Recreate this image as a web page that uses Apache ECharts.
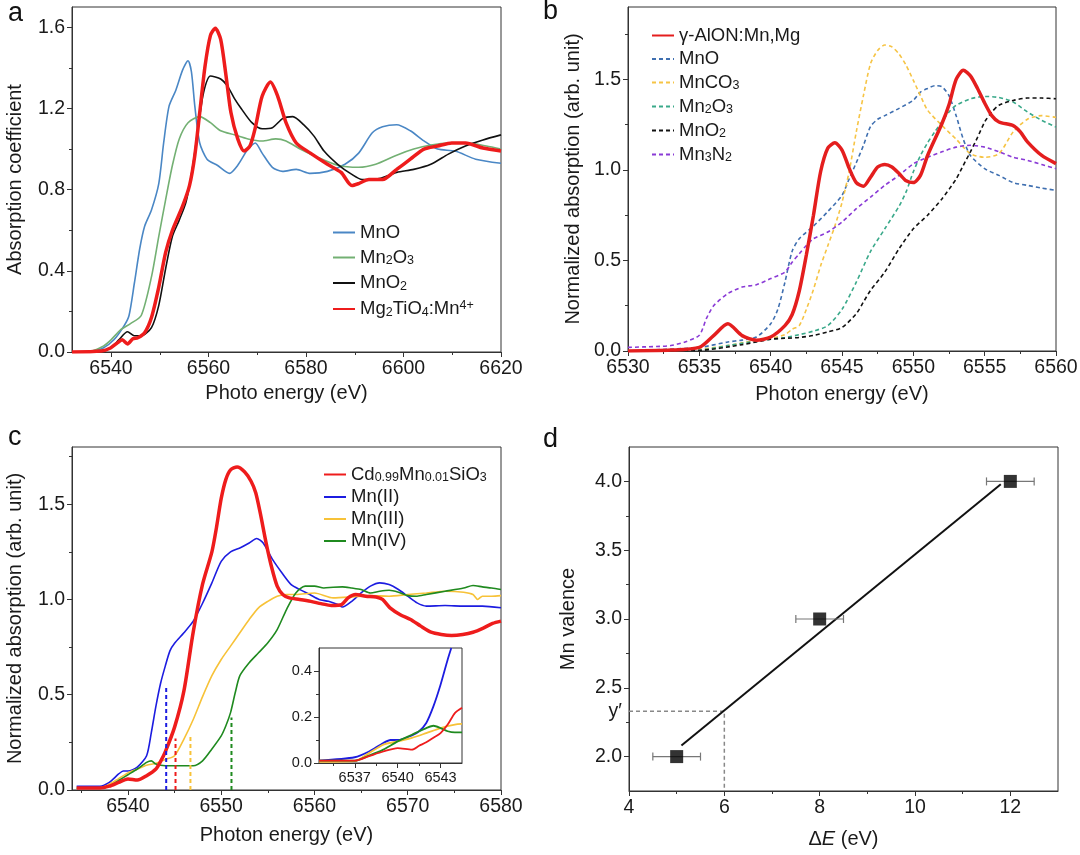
<!DOCTYPE html>
<html><head><meta charset="utf-8">
<script src="https://cdn.jsdelivr.net/npm/echarts@6/dist/echarts.min.js"></script>
<style>html,body{margin:0;padding:0;background:#fff}#c{width:1080px;height:855px}</style>
</head><body><div id="c"></div>
<script>
// ---------- Panel a data ----------
const aMnO = [[6532,0],[6536,0.005],[6538.4,0.02],[6540.6,0.06],[6542.7,0.13],[6543.7,0.18],[6544.8,0.34],[6545.9,0.51],[6546.9,0.62],[6548.3,0.70],[6549.8,0.83],[6550.8,1.03],[6551.9,1.21],[6553.3,1.29],[6554.7,1.39],[6555.8,1.435],[6556.5,1.38],[6557.2,1.21],[6558.2,1.03],[6559.7,0.95],[6561.8,0.92],[6564.3,0.88],[6566,0.92],[6568.1,1.0],[6569.6,1.03],[6571,0.98],[6573.1,0.91],[6575.2,0.89],[6578,0.90],[6580.9,0.88],[6584.4,0.89],[6588,0.925],[6590.8,0.98],[6593.6,1.08],[6595.7,1.11],[6598.6,1.12],[6601.4,1.09],[6604.2,1.04],[6607,1.0],[6610.6,0.99],[6614.8,0.95],[6620,0.93]];
const aMn2O3 = [[6532,0],[6536,0.005],[6538.5,0.03],[6540,0.06],[6542,0.11],[6544,0.14],[6546.2,0.18],[6548.3,0.37],[6549.8,0.57],[6551.2,0.75],[6552.6,0.92],[6554,1.05],[6555.8,1.13],[6558.2,1.16],[6560.4,1.13],[6562.5,1.09],[6565.3,1.07],[6568.1,1.05],[6571,1.04],[6573.8,1.05],[6575.9,1.04],[6578.8,1.0],[6582.3,0.96],[6586.5,0.92],[6590.8,0.91],[6594.3,0.925],[6598.6,0.97],[6602.1,1.0],[6605.6,1.02],[6609.2,1.03],[6613.4,1.03],[6617,1.015],[6620,1.0]];
const aMnO2 = [[6532,0],[6538,0.005],[6540,0.02],[6541.6,0.06],[6543.4,0.10],[6544.8,0.08],[6546.2,0.08],[6548.3,0.12],[6549.8,0.23],[6551.2,0.41],[6552.6,0.57],[6554,0.65],[6555.4,0.74],[6556.8,0.92],[6557.9,1.11],[6559,1.28],[6560.4,1.36],[6562.5,1.345],[6563.9,1.31],[6565.3,1.25],[6566.7,1.20],[6568.9,1.13],[6571,1.10],[6573.1,1.105],[6575.2,1.15],[6577.3,1.16],[6579.5,1.12],[6581.6,1.065],[6583.7,0.99],[6586.5,0.925],[6589.4,0.875],[6591.5,0.85],[6595,0.855],[6598.6,0.885],[6602.1,0.90],[6605.6,0.925],[6609.2,0.975],[6612.7,1.015],[6616.3,1.045],[6620,1.07]];
const aMgTiO = [[6532,0],[6538,0.005],[6539.9,0.02],[6541.3,0.045],[6542.3,0.06],[6543.4,0.04],[6544.5,0.065],[6545.5,0.07],[6546.9,0.095],[6548.3,0.17],[6549.8,0.32],[6551.2,0.49],[6552.6,0.60],[6554.7,0.72],[6556.1,0.82],[6557.2,0.97],[6558.2,1.18],[6559.3,1.41],[6560.4,1.56],[6561.4,1.595],[6562.5,1.54],[6563.6,1.36],[6564.6,1.18],[6566,1.05],[6567.3,0.99],[6568.5,1.015],[6569.6,1.105],[6571,1.26],[6572.7,1.33],[6574.2,1.26],[6575.9,1.13],[6578,1.03],[6580.9,0.98],[6584.4,0.925],[6587.2,0.885],[6589.4,0.82],[6590.8,0.83],[6592.9,0.85],[6595.7,0.85],[6598.6,0.90],[6601.4,0.95],[6604.2,1.0],[6607,1.015],[6609.9,1.03],[6612.7,1.03],[6616.3,1.005],[6620,0.99]];

// ---------- Panel b data ----------
const bAlON = [[6530,0],[6533,0.005],[6535,0.02],[6536,0.085],[6537,0.15],[6538,0.085],[6539,0.06],[6540,0.077],[6541,0.14],[6541.5,0.2],[6542,0.33],[6542.5,0.53],[6543,0.75],[6543.5,0.99],[6544,1.12],[6544.5,1.15],[6545,1.11],[6545.5,1.01],[6546,0.93],[6546.5,0.91],[6547,0.96],[6547.5,1.016],[6548,1.03],[6548.5,1.016],[6549,0.98],[6549.5,0.94],[6550,0.93],[6550.5,0.97],[6551,1.08],[6552,1.255],[6552.5,1.36],[6553,1.50],[6553.5,1.55],[6554,1.52],[6554.5,1.45],[6555,1.37],[6555.5,1.30],[6556,1.265],[6557,1.245],[6557.5,1.21],[6558,1.155],[6559,1.08],[6560,1.035]];
const bMnO = [[6530,0],[6535,0.02],[6537,0.05],[6538,0.06],[6539,0.077],[6540,0.15],[6540.5,0.23],[6541,0.38],[6541.5,0.55],[6542,0.62],[6543,0.69],[6544,0.77],[6545,0.86],[6545.5,0.95],[6546,1.04],[6546.5,1.135],[6547,1.24],[6547.5,1.28],[6548,1.30],[6549,1.34],[6550,1.385],[6550.5,1.43],[6551,1.45],[6551.5,1.465],[6552,1.46],[6552.5,1.41],[6553,1.30],[6553.5,1.17],[6554,1.08],[6555,1.007],[6556,0.97],[6557,0.93],[6558,0.915],[6559,0.90],[6560,0.887]];
const bMnCO3 = [[6530,0],[6535,0.01],[6537,0.03],[6538,0.045],[6539,0.06],[6540,0.07],[6541,0.09],[6541.5,0.12],[6542,0.14],[6542.5,0.23],[6543,0.34],[6543.5,0.47],[6544,0.58],[6544.5,0.69],[6545,0.82],[6545.5,0.99],[6546,1.21],[6546.5,1.41],[6547,1.587],[6547.5,1.66],[6548,1.69],[6548.5,1.68],[6549,1.64],[6549.5,1.577],[6550,1.495],[6550.5,1.41],[6551,1.33],[6552,1.246],[6553,1.17],[6554,1.09],[6555,1.07],[6556,1.09],[6557,1.21],[6558,1.28],[6559,1.30],[6560,1.29]];
const bMn2O3 = [[6530,0],[6535,0.005],[6537,0.03],[6539,0.055],[6541,0.075],[6542,0.09],[6543,0.11],[6544,0.14],[6545,0.23],[6546,0.38],[6547,0.55],[6548,0.675],[6549,0.80],[6549.5,0.88],[6550,0.99],[6550.5,1.08],[6551,1.15],[6551.5,1.21],[6552,1.265],[6552.5,1.32],[6553,1.357],[6554,1.393],[6555,1.406],[6556,1.40],[6557,1.375],[6558,1.32],[6559,1.274],[6560,1.237]];
const bMnO2 = [[6530,0],[6535,0.003],[6538,0.035],[6540,0.065],[6541,0.07],[6542,0.075],[6543,0.086],[6544,0.105],[6545,0.13],[6546,0.206],[6546.5,0.27],[6547,0.335],[6548,0.436],[6549,0.565],[6550,0.675],[6551,0.75],[6552,0.84],[6553,0.95],[6553.5,1.025],[6554,1.10],[6554.5,1.18],[6555,1.265],[6555.5,1.32],[6556,1.357],[6557,1.384],[6558,1.397],[6559,1.397],[6560,1.393]];
const bMn3N2 = [[6530,0.02],[6532,0.025],[6533,0.03],[6534,0.05],[6535,0.087],[6535.5,0.18],[6536,0.25],[6537,0.317],[6538,0.353],[6539,0.366],[6540,0.40],[6541,0.436],[6541.5,0.49],[6542,0.537],[6542.5,0.583],[6543,0.62],[6544,0.657],[6545,0.712],[6546,0.786],[6547,0.85],[6548,0.915],[6549,0.97],[6550,1.034],[6551,1.07],[6552,1.10],[6553,1.126],[6554,1.136],[6555,1.126],[6556,1.10],[6557,1.07],[6558,1.053],[6559,1.03],[6560,1.007]];

// ---------- Panel c data ----------
const cCdMn = [[6534.5,0.01],[6537,0.01],[6538,0.02],[6539,0.04],[6540,0.058],[6541,0.052],[6542,0.075],[6543,0.11],[6543.5,0.15],[6544,0.20],[6545,0.33],[6546,0.52],[6547,0.83],[6548,1.08],[6549,1.25],[6549.5,1.38],[6550,1.53],[6550.5,1.63],[6551,1.68],[6551.7,1.695],[6552.5,1.67],[6553.2,1.62],[6553.7,1.56],[6554.2,1.45],[6554.8,1.30],[6555.4,1.17],[6556,1.07],[6556.6,1.026],[6557.3,1.008],[6558.4,1.0],[6559.6,0.99],[6560.7,0.978],[6561.8,0.968],[6562.9,0.973],[6563.6,1.008],[6564.4,1.026],[6565.5,1.017],[6566.6,1.013],[6567.3,1.0],[6568.1,0.956],[6569.2,0.92],[6570.3,0.895],[6571.4,0.86],[6572.5,0.828],[6573.6,0.816],[6574.7,0.811],[6575.9,0.816],[6577,0.828],[6578.1,0.85],[6579.1,0.874],[6580,0.886]];
const cMnII = [[6534.5,0.02],[6537,0.02],[6538,0.04],[6539,0.084],[6539.5,0.1],[6540,0.1],[6541,0.12],[6542,0.18],[6542.5,0.30],[6543,0.44],[6543.5,0.56],[6544,0.65],[6544.5,0.73],[6545,0.77],[6546,0.825],[6547,0.886],[6548,0.98],[6549,1.087],[6550,1.20],[6551,1.25],[6552,1.27],[6553,1.296],[6553.8,1.32],[6554.5,1.296],[6555.5,1.21],[6556.5,1.14],[6557.5,1.078],[6558.5,1.05],[6559.5,1.026],[6560.5,1.0],[6561.5,0.99],[6562.5,0.973],[6563,0.96],[6564,0.99],[6565,1.034],[6566,1.07],[6567,1.087],[6568,1.078],[6569,1.052],[6570,1.017],[6571,0.982],[6572,0.965],[6574,0.968],[6576,0.965],[6578,0.965],[6580,0.956]];
const cMnIII = [[6534.5,0.01],[6537,0.01],[6538,0.03],[6539,0.06],[6540,0.09],[6541,0.11],[6542,0.13],[6543,0.14],[6544,0.16],[6545,0.18],[6546,0.267],[6547,0.37],[6548,0.49],[6549,0.60],[6550,0.685],[6551,0.755],[6552,0.825],[6553,0.895],[6554,0.956],[6555,0.99],[6556,1.017],[6557,1.026],[6558,1.026],[6560,1.034],[6562,1.008],[6564,1.013],[6566,1.02],[6568,1.017],[6570,1.026],[6572,1.034],[6574,1.043],[6576,1.038],[6577,1.026],[6577.5,1.0],[6578,1.017],[6579,1.017],[6580,1.02]];
const cMnIV = [[6534.5,0.01],[6537,0.01],[6538,0.02],[6539,0.05],[6540,0.08],[6541,0.11],[6542,0.145],[6542.5,0.153],[6543,0.136],[6544,0.127],[6545,0.127],[6546,0.127],[6547,0.127],[6548,0.153],[6549,0.215],[6550,0.284],[6550.5,0.337],[6551,0.406],[6551.5,0.51],[6552,0.60],[6553,0.668],[6554,0.72],[6555,0.773],[6556,0.842],[6557,0.947],[6558,1.034],[6559,1.07],[6560,1.07],[6561,1.06],[6562,1.064],[6563,1.066],[6564,1.06],[6565,1.052],[6566,1.034],[6567,1.043],[6568,1.048],[6569,1.038],[6570,1.02],[6571,1.017],[6572,1.026],[6574,1.043],[6576,1.06],[6577,1.073],[6578,1.066],[6579,1.06],[6580,1.052]];
// drop lines (energy, top value)
const cDropX = [6544.1, 6545.1, 6546.7, 6551.1];
const cDropTop = [0.54, 0.27, 0.29, 0.38];
// inset
const iMnII = [[6534.5,0.01],[6537,0.025],[6538,0.05],[6539,0.087],[6539.5,0.10],[6540,0.10],[6541,0.12],[6541.5,0.138],[6542,0.174],[6542.5,0.246],[6543,0.34],[6543.5,0.45],[6543.75,0.5]];
const iCdMn = [[6534.5,0.01],[6537,0.01],[6538,0.03],[6539,0.05],[6540,0.065],[6541,0.058],[6541.5,0.075],[6542,0.09],[6542.5,0.11],[6543,0.13],[6543.5,0.167],[6544,0.217],[6544.5,0.24]];
const iMnIII = [[6534.5,0.005],[6537,0.008],[6538,0.043],[6539,0.08],[6540,0.094],[6541,0.109],[6542,0.13],[6543,0.152],[6544,0.167],[6544.5,0.17]];
const iMnIV = [[6534.5,0.01],[6537,0.01],[6538,0.032],[6539,0.058],[6540,0.094],[6541,0.123],[6541.5,0.138],[6542,0.152],[6542.5,0.162],[6543,0.152],[6543.5,0.138],[6544,0.133],[6544.5,0.133]];

// ---------- Panel d data ----------
const dX = [5, 8, 12];
const dY = [2, 3, 4];
const dErr = [0.5, 0.5, 0.5];
const dFit = [[5.1, 2.08], [11.8, 3.98]];
const dYPrime = 2.33;
const dXPrime = 6;

// ---------- tick values ----------
const aXMaj = [6540,6560,6580,6600,6620], aXMin = [6550,6570,6590,6610];
const aYMaj = [0,0.4,0.8,1.2,1.6], aYMin = [0.2,0.6,1.0,1.4];
const bXMaj = [6530,6535,6540,6545,6550,6555,6560], bXMin = [6532.5,6537.5,6542.5,6547.5,6552.5,6557.5];
const bYMaj = [0,0.5,1.0,1.5], bYMin = [0.25,0.75,1.25,1.75];
const cXMaj = [6540,6550,6560,6570,6580], cXMin = [6535,6545,6555,6565,6575];
const cYMaj = [0,0.5,1.0,1.5], cYMin = [0.25,0.75,1.25,1.75];
const iXMaj = [6537,6540,6543], iXMin = [6535.5,6538.5,6541.5];
const iYMaj = [0,0.2,0.4], iYMin = [0.1,0.3];
const dXMaj = [4,6,8,10,12], dXMin = [5,7,9,11];
const dYMaj = [2.0,2.5,3.0,3.5,4.0], dYMin = [2.25,2.75,3.25,3.75];

const FONT = '"Liberation Sans", Arial, Helvetica, sans-serif';
const AX = '#333', TXT = '#1a1a1a';
const TICKFS = 19.5, NAMEFS = 20;

function axisPair(dim, gridIndex, min, max, majors, minors, labelVals, fmt, fs, extra) {
  const pos = dim === 'x' ? 'bottom' : 'left';
  const main = Object.assign({
    type: 'value', gridIndex, min, max, position: pos,
    axisLine: {show: true, onZero: false, lineStyle: {color: AX, width: 1}},
    axisTick: {show: true, inside: false, length: 5, customValues: majors, lineStyle: {color: AX, width: 1}},
    axisLabel: {show: true, customValues: labelVals, formatter: fmt, color: TXT, fontFamily: FONT, fontSize: fs, margin: 7, hideOverlap: false},
    splitLine: {show: false}
  }, extra || {});
  const minor = {
    type: 'value', gridIndex, min, max, position: pos,
    axisLine: {show: false, onZero: false},
    axisTick: {show: true, inside: false, length: 3, customValues: minors, lineStyle: {color: AX, width: 1}},
    axisLabel: {show: false}, splitLine: {show: false}
  };
  return [main, minor];
}
const f1 = v => v.toFixed(1);
const f0 = v => String(Math.round(v));
const nameStyle = {color: TXT, fontFamily: FONT, fontSize: NAMEFS};

const xAxis = [
  ...axisPair('x', 0, 6532, 6620, aXMaj, aXMin, aXMaj, f0, TICKFS, {name: 'Photo energy (eV)', nameLocation: 'middle', nameGap: 31, nameTextStyle: nameStyle}),
  ...axisPair('x', 1, 6530, 6560, bXMaj, bXMin, bXMaj, f0, TICKFS, {name: 'Photon energy (eV)', nameLocation: 'middle', nameGap: 33, nameTextStyle: nameStyle}),
  ...axisPair('x', 2, 6534, 6580, cXMaj, cXMin, cXMaj, f0, TICKFS, {name: 'Photon energy (eV)', nameLocation: 'middle', nameGap: 35, nameTextStyle: nameStyle}),
  ...axisPair('x', 3, 6534.5, 6544.5, iXMaj, iXMin, iXMaj, f0, 14.5, {}),
  ...axisPair('x', 4, 4, 13, dXMaj, dXMin, dXMaj, f0, TICKFS, {name: 'Δ{i|E} (eV)', nameLocation: 'middle', nameGap: 38,
     nameTextStyle: Object.assign({}, nameStyle, {rich: {i: {fontStyle: 'italic', fontFamily: FONT, fontSize: NAMEFS, color: TXT}}})})
];
const yAxis = [
  ...axisPair('y', 0, 0, 1.7, aYMaj, aYMin, aYMaj, f1, TICKFS, {name: 'Absorption coefficient', nameLocation: 'middle', nameGap: 47, nameTextStyle: nameStyle}),
  ...axisPair('y', 1, 0, 1.9, bYMaj, bYMin, bYMaj, f1, TICKFS, {name: 'Normalized absorption (arb. unit)', nameLocation: 'middle', nameGap: 45, nameTextStyle: nameStyle}),
  ...axisPair('y', 2, 0, 1.8, cYMaj, cYMin, cYMaj, f1, TICKFS, {name: 'Normalized absorption (arb. unit)', nameLocation: 'middle', nameGap: 47, nameTextStyle: nameStyle}),
  ...axisPair('y', 3, 0, 0.5, iYMaj, iYMin, iYMaj, f1, 14.5, {}),
  ...axisPair('y', 4, 1.75, 4.25, dYMaj, dYMin, dYMaj.concat([dYPrime]),
     v => Math.abs(v - dYPrime) < 1e-6 ? 'y\u2032' : v.toFixed(1), TICKFS,
     {name: 'Mn valence', nameLocation: 'middle', nameGap: 51, nameTextStyle: nameStyle})
];

const gridBase = {show: true, borderColor: AX, borderWidth: 1, backgroundColor: 'transparent', containLabel: false, outerBoundsMode: 'none'};
const grid = [
  Object.assign({left: 72, top: 7, width: 429, height: 345}, gridBase),
  Object.assign({left: 628, top: 7, width: 428, height: 344}, gridBase),
  Object.assign({left: 72, top: 447, width: 429, height: 343}, gridBase),
  Object.assign({left: 319, top: 648, width: 143, height: 115}, gridBase, {backgroundColor: '#fff'}),
  Object.assign({left: 629, top: 447, width: 429, height: 344}, gridBase)
];

function ln(name, data, gi, color, width, dashed, z) {
  return {type: 'line', name, data, xAxisIndex: gi * 2, yAxisIndex: gi * 2, symbol: 'none', showSymbol: false,
    smooth: 0.25, silent: true, z: z || 2,
    lineStyle: {color, width, type: dashed ? [4, 3] : 'solid'}, itemStyle: {color}};
}

const cRed = '#ee1c1c', cBlue = '#1c1ce0', cYel = '#f7c238', cGrn = '#1f8a1f';
const dropColors = [cBlue, cRed, cYel, cGrn];

const series = [
  // a
  ln('a:MnO', aMnO, 0, '#4a87c5', 1.6),
  ln('a:Mn2O3', aMn2O3, 0, '#73b073', 1.6),
  ln('a:MnO2', aMnO2, 0, '#111111', 1.6),
  ln('a:Mg', aMgTiO, 0, '#ee1c1c', 3.5, false, 3),
  // b
  ln('b:MnO', bMnO, 1, '#3f6fb0', 1.6, true),
  ln('b:MnCO3', bMnCO3, 1, '#f6c445', 1.6, true),
  ln('b:Mn2O3', bMn2O3, 1, '#3aa98a', 1.6, true),
  ln('b:MnO2', bMnO2, 1, '#111111', 1.6, true),
  ln('b:Mn3N2', bMn3N2, 1, '#8a3bd6', 1.6, true),
  ln('b:AlON', bAlON, 1, '#e41e1e', 3.5, false, 3),
  // c
  ln('c:MnII', cMnII, 2, cBlue, 1.6),
  ln('c:MnIII', cMnIII, 2, cYel, 1.6),
  ln('c:MnIV', cMnIV, 2, cGrn, 1.6),
  ln('c:Cd', cCdMn, 2, cRed, 3.5, false, 3),
  ...cDropX.map((x, i) => ({type: 'line', data: [[x, 0], [x, cDropTop[i]]], xAxisIndex: 4, yAxisIndex: 4, symbol: 'none',
    silent: true, z: 4, lineStyle: {color: dropColors[i], width: 2, type: [4, 3]}})),
  // inset
  ln('i:MnII', iMnII, 3, cBlue, 1.8),
  ln('i:MnIII', iMnIII, 3, cYel, 1.8),
  ln('i:MnIV', iMnIV, 3, cGrn, 1.8),
  ln('i:Cd', iCdMn, 3, cRed, 1.8),
  // d
  {type: 'line', data: [[4, dYPrime], [dXPrime, dYPrime], [dXPrime, 1.75]], xAxisIndex: 8, yAxisIndex: 8, symbol: 'none',
    silent: true, lineStyle: {color: '#888', width: 1.5, type: [4, 3]}},
  {type: 'line', data: dFit, xAxisIndex: 8, yAxisIndex: 8, symbol: 'none', silent: true, z: 3,
    lineStyle: {color: '#111', width: 2}},
  {type: 'custom', xAxisIndex: 8, yAxisIndex: 8, silent: true, z: 4,
    data: dX.map((x, i) => [x - dErr[i], dY[i], x + dErr[i]]), encode: {x: [0, 2], y: 1},
    renderItem: (params, api) => {
      const lo = api.coord([api.value(0), api.value(1)]);
      const hi = api.coord([api.value(2), api.value(1)]);
      const st = {stroke: '#777', lineWidth: 1.2};
      return {type: 'group', children: [
        {type: 'line', shape: {x1: lo[0], y1: lo[1], x2: hi[0], y2: hi[1]}, style: st},
        {type: 'line', shape: {x1: lo[0], y1: lo[1] - 4, x2: lo[0], y2: lo[1] + 4}, style: st},
        {type: 'line', shape: {x1: hi[0], y1: hi[1] - 4, x2: hi[0], y2: hi[1] + 4}, style: st}
      ]};
    }},
  {type: 'scatter', data: dX.map((x, i) => [x, dY[i]]), xAxisIndex: 8, yAxisIndex: 8, symbol: 'rect', symbolSize: 13,
    silent: true, z: 5, itemStyle: {color: '#000'}}
];

const LEG = {
  'a:MnO': '{n|MnO}', 'a:Mn2O3': '{n|Mn}{s|2}{n|O}{s|3}', 'a:MnO2': '{n|MnO}{s|2}', 'a:Mg': '{n|Mg}{s|2}{n|TiO}{s|4}{n|:Mn}{p|4+}',
  'b:AlON': '{n|γ-AlON:Mn,Mg}', 'b:MnO': '{n|MnO}', 'b:MnCO3': '{n|MnCO}{s|3}', 'b:Mn2O3': '{n|Mn}{s|2}{n|O}{s|3}',
  'b:MnO2': '{n|MnO}{s|2}', 'b:Mn3N2': '{n|Mn}{s|3}{n|N}{s|2}',
  'c:Cd': '{n|Cd}{s|0.99}{n|Mn}{s|0.01}{n|SiO}{s|3}', 'c:MnII': '{n|Mn(II)}', 'c:MnIII': '{n|Mn(III)}', 'c:MnIV': '{n|Mn(IV)}'
};
const RICH = {
  n: {fontSize: 18.5, lineHeight: 20, fontFamily: FONT, color: TXT},
  s: {fontSize: 12.5, lineHeight: 6, verticalAlign: 'bottom', fontFamily: FONT, color: TXT},
  p: {fontSize: 12.5, lineHeight: 6, verticalAlign: 'top', fontFamily: FONT, color: TXT}
};
function legend(data, left, top, gap) {
  return {orient: 'vertical', left, top, itemGap: gap, itemWidth: 22, itemHeight: 12, selectedMode: false,
    data, formatter: n => LEG[n], textStyle: {rich: RICH}, itemStyle: {opacity: 0, borderWidth: 0}};
}

const option = {
  animation: false,
  backgroundColor: '#fff',
  grid, xAxis, yAxis, series,
  legend: [
    legend(['a:MnO', 'a:Mn2O3', 'a:MnO2', 'a:Mg'], 327, 218, 6),
    legend(['b:AlON', 'b:MnO', 'b:MnCO3', 'b:Mn2O3', 'b:MnO2', 'b:Mn3N2'], 646, 21, 4.5),
    legend(['c:Cd', 'c:MnII', 'c:MnIII', 'c:MnIV'], 318, 460, 3)
  ],
  graphic: [
    {type: 'text', left: 8, top: 0, style: {text: 'a', fontSize: 27, fontFamily: FONT, fill: '#111'}},
    {type: 'text', left: 543, top: -2, style: {text: 'b', fontSize: 27, fontFamily: FONT, fill: '#111'}},
    {type: 'text', left: 8, top: 424, style: {text: 'c', fontSize: 27, fontFamily: FONT, fill: '#111'}},
    {type: 'text', left: 543, top: 426, style: {text: 'd', fontSize: 27, fontFamily: FONT, fill: '#111'}}
  ]
};
const chart = echarts.init(document.getElementById('c'), null, {renderer: 'canvas'});
chart.setOption(option);
</script></body></html>
